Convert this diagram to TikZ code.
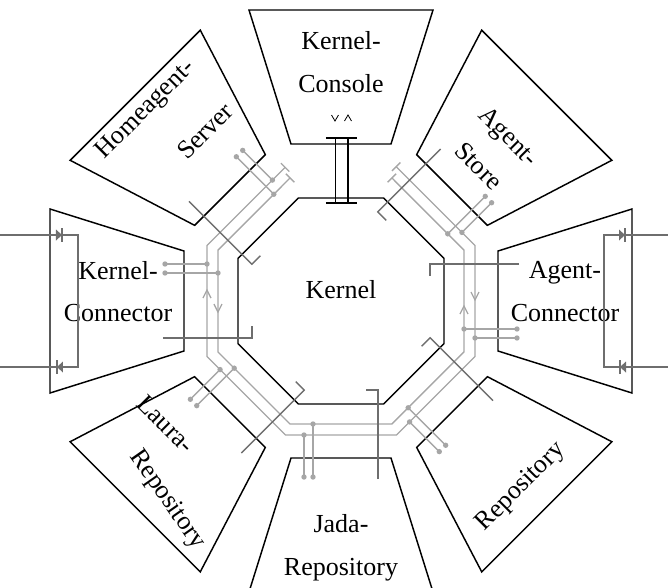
\documentclass[tikz,border=0pt]{standalone}
\usepackage{fontspec}
\setmainfont{Liberation Serif}
\begin{document}
\begin{tikzpicture}[x=0.75pt,y=0.75pt,
    boxline/.style={line width=1.1pt,black},
    linkline/.style={line width=0.9pt,black},
    ringline/.style={line width=1pt,r166g166b166},
    divline/.style={line width=1pt,r110g110b110},
    ringdot/.style={fill=r166g166b166},
    boxlabel/.style={align=center,font=\fontsize{19.5}{32}\selectfont}]
                    % Changing color 166 166 166 and 110 110 110
                    \definecolor{r166g166b166}{rgb}{0.650000,0.650000,0.650000}%
                    \definecolor{r110g110b110}{rgb}{0.430000,0.430000,0.430000}%
                    \useasboundingbox (-341,-286) rectangle (327,301);
                    \clip (-341,-286) rectangle (327,301);

                    % Drawing the kernel octagon
                    \draw [boxline] (22.5:111.5) -- (67.5:111.5) -- (112.5:111.5) -- (157.5:111.5) -- (202.5:111.5) -- (247.5:111.5) -- (292.5:111.5) -- (337.5:111.5) -- cycle;%
                    \node [boxlabel] (kernel) at (0,11) {Kernel};%

                    % Drawing the eight boxes round the kernel
                    \draw [boxline] (157,-50) -- (291,-92) -- (291,92) -- (157,50) -- cycle;%
                    \draw [boxline, rotate=45] (157,-50) -- (291,-92) -- (291,92) -- (157,50) -- cycle;%
                    \draw [boxline, rotate=90] (157,-50) -- (291,-92) -- (291,92) -- (157,50) -- cycle;%
                    \draw [boxline, rotate=135] (157,-50) -- (291,-92) -- (291,92) -- (157,50) -- cycle;%
                    \draw [boxline, rotate=180] (157,-50) -- (291,-92) -- (291,92) -- (157,50) -- cycle;%
                    \draw [boxline, rotate=225] (157,-50) -- (291,-92) -- (291,92) -- (157,50) -- cycle;%
                    \draw [boxline, rotate=270] (157,-50) -- (291,-92) -- (291,92) -- (157,50) -- cycle;%
                    \draw [boxline, rotate=315] (157,-50) -- (291,-92) -- (291,92) -- (157,50) -- cycle;%

                    % Marking the box labels
                    \node [boxlabel] (agentcon) at (224,9.5) {Agent-\\Connector};%
                    \node [boxlabel, rotate=-45] (agentstore) at (153,150) {Agent-\\Store};%
                    \node [boxlabel] (kernelcons) at (0,239) {Kernel-\\Console};%
                    \node [boxlabel, rotate=45] (homeagent) at (-195,191) {Homeagent-};%
                    \node [boxlabel, rotate=45] (server) at (-136,170) {Server};%
                    \node [boxlabel] (kernelcon) at (-223,9.5) {Kernel-\\Connector};%
                    \node [boxlabel, rotate=-45] (laura) at (-175,-123) {Laura-};%
                    \node [boxlabel, rotate=-55] (laurarep) at (-174,-199) {Repository};%
                    \node [boxlabel] (jadarep) at (0,-247) {Jada-\\Repository};%
                    \node [boxlabel, rotate=45] (rep) at (180,-186) {Repository};%

                    % Drawing the bus ring (open at the top)
                    \draw [ringline] ([rotate=45]134,56) -- (22.5:145.04) -- (-22.5:145.04) -- (-67.5:145.04) -- (-112.5:145.04) -- (-157.5:145.04) -- (157.5:145.04) -- ([rotate=135]134,-55);%
                    \draw [ringline] ([rotate=45]123,51) -- (22.5:133.13) -- (-22.5:133.13) -- (-67.5:133.13) -- (-112.5:133.13) -- (-157.5:133.13) -- (157.5:133.13) -- ([rotate=135]123,-51);%
                    \draw [ringline, rotate=45] (128,56) -- (140,56) (117,51) -- (129,51);%
                    \draw [ringline, rotate=135] (128,-55) -- (140,-55) (117,-51) -- (129,-51);%

                    % Marking the flow direction on the ring
                    \draw [ringline] (-138,3) -- (-134,11) -- (-130,3);%
                    \draw [ringline] (-127,-3) -- (-123,-11) -- (-119,-3);%
                    \draw [ringline] (130,9) -- (134,1) -- (138,9);%
                    \draw [ringline] (119,-13) -- (123,-5) -- (127,-13);%

                    % Drawing the links from the boxes to the ring
                    \foreach \ang in {0,45,135,180,225,270,315} {
                    \begin{scope}[rotate=\ang]
                    \draw [ringline] (176,-37) -- (134,-37);%
                    \draw [ringline] (176,-28) -- (123,-28);%
                    \fill [ringdot] (176,-37) circle (2.7) (134,-37) circle (2.7);%
                    \fill [ringdot] (176,-28) circle (2.7) (123,-28) circle (2.7);%
                    % Drawing divider
                    \draw [divline] (178,37) -- (89,37) -- (89,25);%
                    \end{scope}
                    }

                    % Drawing the outer wires of the two connectors
                    \foreach \ang in {0,180} {
                    \begin{scope}[rotate=\ang]
                    \draw [divline] (345,-66) -- (263,-66) -- (263,66) -- (345,66);%
                    \fill [r110g110b110] (285,-60.5) -- (285,-71.5) -- (279,-66) -- cycle;%
                    \draw [divline] (279,-73) -- (279,-59);%
                    \fill [r110g110b110] (278,60.5) -- (278,71.5) -- (284,66) -- cycle;%
                    \draw [divline] (284,59) -- (284,73);%
                    \end{scope}
                    }

                    % Drawing the console link
                    \draw [linkline] (-5.5,98) -- (-5.5,163);%
                    \draw [linkline] (7,98) -- (7,163);%
                    \draw [linkline] (-15,163) -- (16,163);%
                    \draw [linkline] (-15,98) -- (16,98);%
                    \draw [line width=0.6pt] (-9.5,186) -- (-6,180) -- (-2.5,186);%
                    \draw [line width=0.6pt] (3.5,180) -- (7,186) -- (10.5,180);%
\end{tikzpicture}
\end{document}
